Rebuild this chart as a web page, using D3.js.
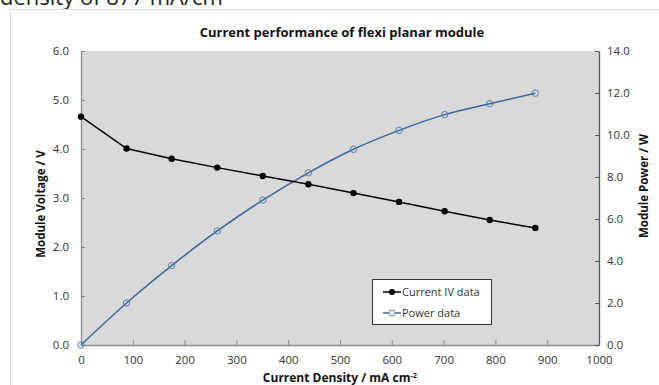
<!DOCTYPE html>
<html>
<head>
<meta charset="utf-8">
<script src="https://cdn.jsdelivr.net/npm/d3@7"></script>
<style>
  body { margin: 0; background: #fff; }
  svg { display: block; }
  text { font-family: "Open Sans", "Noto Sans", sans-serif; }
</style>
</head>
<body>
<svg id="chart" width="659" height="385"></svg>
<script>
// values
var density = [0, 88, 175, 263, 351, 439, 526, 614, 702, 789, 877];
var voltage = [4.66, 4.01, 3.80, 3.62, 3.45, 3.28, 3.10, 2.92, 2.73, 2.55, 2.39];
var power = [0, 2.0, 3.78, 5.43, 6.9, 8.2, 9.32, 10.22, 10.97, 11.49, 11.99];
var xTicks = [0, 100, 200, 300, 400, 500, 600, 700, 800, 900, 1000];
var vTicks = [0, 1, 2, 3, 4, 5, 6];
var pTicks = [0, 2, 4, 6, 8, 10, 12, 14];

var svg = d3.select("#chart");
var plotL = 81, plotR = 599, plotT = 51, plotB = 345;

// cut off caption above the chart
svg.append("text")
   .attr("x", 0).attr("y", 5)
   .attr("font-size", "22px")
   .attr("fill", "#222")
   .text("density of 877 mA/cm");

// chart frame
svg.append("rect")
   .attr("x", 10.5).attr("y", 9.5)
   .attr("width", 700).attr("height", 400)
   .attr("fill", "#fff")
   .attr("stroke", "#d9d9d9");

svg.append("text")
   .attr("x", 342).attr("y", 37)
   .attr("text-anchor", "middle")
   .attr("font-size", "13px")
   .attr("font-weight", "bold")
   .attr("fill", "#111")
   .text("Current performance of flexi planar module");

var x = d3.scaleLinear().domain([0, 1000]).range([plotL, plotR]);
var yV = d3.scaleLinear().domain([0, 6]).range([plotB, plotT]);
var yP = d3.scaleLinear().domain([0, 14]).range([plotB, plotT]);

svg.append("rect")
   .attr("x", plotL).attr("y", plotT)
   .attr("width", plotR - plotL).attr("height", plotB - plotT)
   .attr("fill", "#d9d9d9");

function styleAxis(g, color) {
  g.select(".domain").attr("stroke", color).attr("stroke-width", 1.3);
  g.selectAll(".tick line").attr("stroke", color);
  g.selectAll(".tick text")
   .attr("fill", "#333")
   .attr("font-size", "11.5px");
}

var gx = svg.append("g")
   .attr("transform", "translate(0," + plotB + ")")
   .call(d3.axisBottom(x).tickValues(xTicks).tickFormat(d3.format("d"))
         .tickSizeInner(-5).tickSizeOuter(0).tickPadding(11));
styleAxis(gx, "#8c8c8c");

var gl = svg.append("g")
   .attr("transform", "translate(" + plotL + ",0)")
   .call(d3.axisLeft(yV).tickValues(vTicks).tickFormat(d3.format(".1f"))
         .tickSizeInner(-4).tickSizeOuter(0).tickPadding(12));
styleAxis(gl, "#8c8c8c");

var gr = svg.append("g")
   .attr("transform", "translate(" + plotR + ",0)")
   .call(d3.axisRight(yP).tickValues(pTicks).tickFormat(d3.format(".1f"))
         .tickSizeInner(-4).tickSizeOuter(0).tickPadding(8));
styleAxis(gr, "#555");

// axis titles
svg.append("text")
   .attr("transform", "translate(45,204) rotate(-90)")
   .attr("text-anchor", "middle")
   .attr("font-size", "11.5px").attr("font-weight", "bold").attr("fill", "#111")
   .text("Module Voltage / V");

svg.append("text")
   .attr("transform", "translate(648,186) rotate(-90)")
   .attr("text-anchor", "middle")
   .attr("font-size", "11.5px").attr("font-weight", "bold").attr("fill", "#111")
   .text("Module Power / W");

var xt = svg.append("text")
   .attr("x", 340).attr("y", 382)
   .attr("text-anchor", "middle")
   .attr("font-size", "12px").attr("font-weight", "bold").attr("fill", "#111");
xt.append("tspan").text("Current Density / mA cm");
xt.append("tspan").attr("dy", -4).attr("font-size", "7.5px").text("-2");

var ivData = density.map(function(d, i) { return [d, voltage[i]]; });
var pData = density.map(function(d, i) { return [d, power[i]]; });
var blue = "#3f6496";

svg.append("path")
   .datum(pData)
   .attr("fill", "none").attr("stroke", blue).attr("stroke-width", 1.5)
   .attr("d", d3.line().x(function(d) { return x(d[0]); }).y(function(d) { return yP(d[1]); }).curve(d3.curveMonotoneX));

svg.selectAll(".pw")
   .data(pData).enter().append("circle")
   .attr("cx", function(d) { return x(d[0]); })
   .attr("cy", function(d) { return yP(d[1]); })
   .attr("r", 3.2)
   .attr("fill", "none").attr("stroke", "#5b7db0").attr("stroke-width", 1);

svg.append("path")
   .datum(ivData)
   .attr("fill", "none").attr("stroke", "#000").attr("stroke-width", 1.5)
   .attr("d", d3.line().x(function(d) { return x(d[0]); }).y(function(d) { return yV(d[1]); }));

svg.selectAll(".iv")
   .data(ivData).enter().append("circle")
   .attr("cx", function(d) { return x(d[0]); })
   .attr("cy", function(d) { return yV(d[1]); })
   .attr("r", 3.2)
   .attr("fill", "#000");

// legend
var lg = svg.append("g");
lg.append("rect")
  .attr("x", 372.5).attr("y", 279.5).attr("width", 119).attr("height", 45)
  .attr("fill", "#fff").attr("stroke", "#333");
lg.append("line").attr("x1", 383).attr("x2", 401).attr("y1", 292).attr("y2", 292)
  .attr("stroke", "#000").attr("stroke-width", 1.5);
lg.append("circle").attr("cx", 392).attr("cy", 292).attr("r", 3).attr("fill", "#000");
lg.append("text").attr("x", 402).attr("y", 296).attr("font-size", "11px").attr("fill", "#333").text("Current IV data");
lg.append("line").attr("x1", 383).attr("x2", 401).attr("y1", 313).attr("y2", 313)
  .attr("stroke", blue).attr("stroke-width", 1.5);
lg.append("circle").attr("cx", 392).attr("cy", 313).attr("r", 3).attr("fill", "#fff").attr("stroke", "#5b7db0");
lg.append("text").attr("x", 402).attr("y", 317).attr("font-size", "11px").attr("fill", "#333").text("Power data");
</script>
</body>
</html>
